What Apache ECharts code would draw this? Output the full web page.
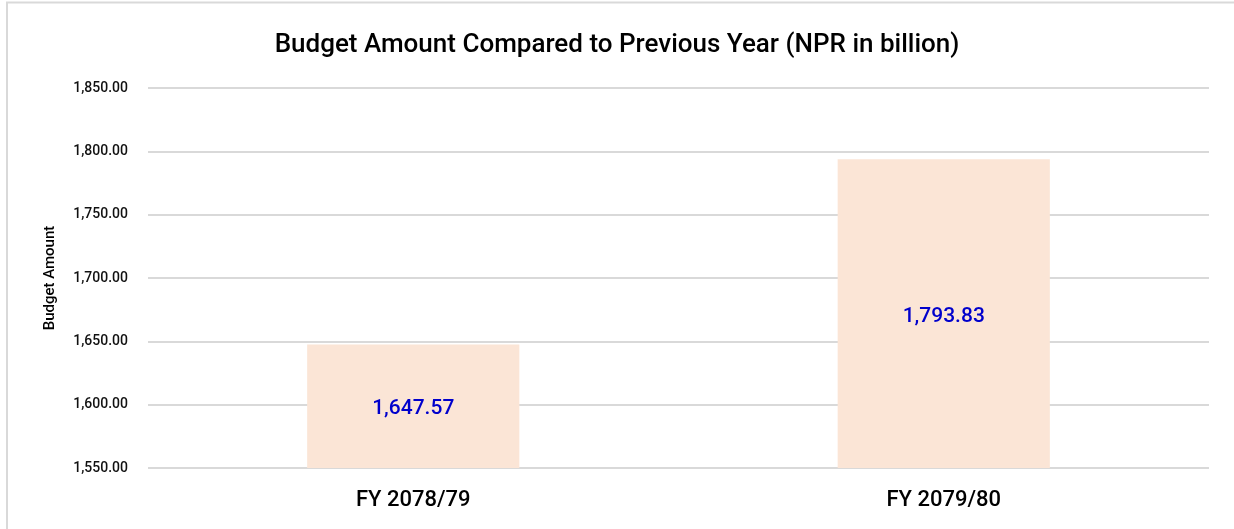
<!DOCTYPE html>
<html>
<head>
<meta charset="utf-8">
<script src="https://cdn.jsdelivr.net/npm/echarts@6/dist/echarts.min.js"></script>
<style>
  html, body { margin: 0; padding: 0; background: #fff; }
  #main { width: 1234px; height: 529px; }
</style>
</head>
<body>
<div id="main"></div>
<script>
const categories = ["FY 2078/79", "FY 2079/80"];
const budgetValues = [1647.57, 1793.83];
const yMin = 1550;
const yMax = 1850;
const yStep = 50;

const myChart = echarts.init(document.getElementById("main"));

function fmt(v) {
  return v.toLocaleString("en-US", { minimumFractionDigits: 2, maximumFractionDigits: 2 });
}

const option = {
  backgroundColor: "#fff",
  textStyle: { fontFamily: "Roboto" },
  animation: false,
  graphic: [
    {
      type: "rect",
      shape: { x: 7, y: 2.5, width: 1400, height: 700 },
      style: { fill: "none", stroke: "#d9d9d9", lineWidth: 2 },
      silent: true
    }
  ],
  title: {
    text: "Budget Amount Compared to Previous Year (NPR in billion)",
    left: "center",
    top: 27,
    textStyle: { fontSize: 26, fontWeight: 500, color: "#000" }
  },
  grid: { left: 148, right: 25, top: 88, bottom: 61 },
  xAxis: {
    type: "category",
    data: categories,
    axisLine: { show: false },
    axisTick: { show: false },
    axisLabel: { fontSize: 22, fontWeight: 500, color: "#000", margin: 21 }
  },
  yAxis: {
    type: "value",
    min: yMin,
    max: yMax,
    interval: yStep,
    name: "Budget Amount",
    nameLocation: "middle",
    nameGap: 90,
    nameTextStyle: { fontSize: 15, fontWeight: 500, color: "#000" },
    axisLine: { show: false },
    axisTick: { show: false },
    axisLabel: { fontSize: 14, fontWeight: 500, color: "#111", margin: 20, formatter: fmt },
    splitLine: { lineStyle: { color: "#d9d9d9", width: 2 } }
  },
  series: [
    {
      type: "bar",
      data: budgetValues,
      barWidth: "40%",
      itemStyle: { color: "#fbe5d6" },
      label: {
        show: true,
        position: "inside",
        fontSize: 21,
        fontWeight: 500,
        color: "#0000cc",
        offset: [0, 3],
        formatter: p => fmt(p.value)
      }
    }
  ]
};

option && myChart.setOption(option);
</script>
</body>
</html>
